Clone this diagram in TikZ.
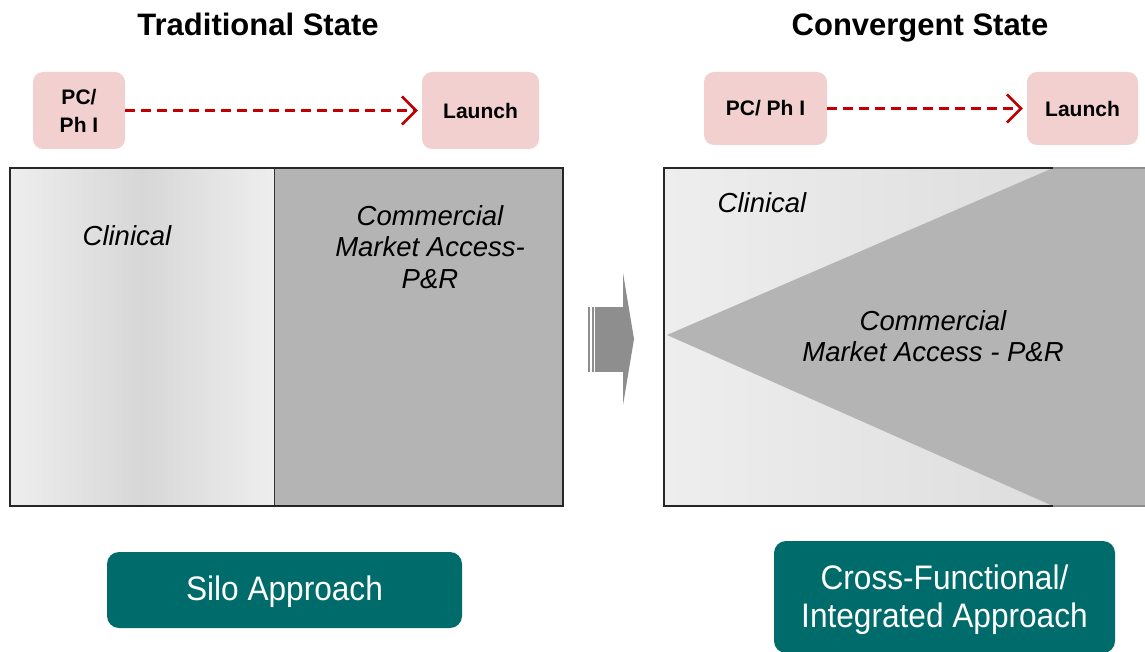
\documentclass[tikz,border=0pt]{standalone}
\usepackage{fontspec}
\setmainfont{Liberation Sans}
\newfontfamily\narrowfont[FakeStretch=0.93]{Liberation Sans}
\usetikzlibrary{arrows.meta,calc}
\definecolor{pinkbox}{RGB}{242,208,208}
\definecolor{tealbox}{RGB}{0,107,107}
\definecolor{darkg}{RGB}{180,180,180}
\definecolor{arrowred}{RGB}{192,0,0}
\definecolor{arrg}{RGB}{142,142,142}
\definecolor{lightg}{RGB}{238,238,238}
\definecolor{midg}{RGB}{215,215,215}
\begin{document}
\begin{tikzpicture}[x=1pt,y=-1pt,
  titletext/.style={font=\fontsize{31}{36}\selectfont\bfseries, anchor=base},
  phase/.style={fill=pinkbox, rounded corners=10pt, inner sep=0pt,
    font=\fontsize{21}{28}\selectfont\bfseries, align=center},
  redline/.style={draw=arrowred, line width=2.6pt, dash pattern=on 10pt off 6pt},
  redtip/.style={draw=arrowred, line width=2.6pt, solid,
    -{Straight Barb[length=14pt,width=28pt]}},
  itext/.style={font=\fontsize{27.5}{31.5}\selectfont\itshape, align=center, inner sep=0pt},
  approach/.style={fill=tealbox, rounded corners=12pt, inner sep=0pt},
  approachtext/.style={text=white, inner sep=0pt, font=\fontsize{34}{38}\narrowfont, align=center},
  panelborder/.style={draw=black!85, line width=1.6pt}
]
\useasboundingbox (0,0) rectangle (1145,652);
\clip (0,0) rectangle (1145,652);

% titles
\node[titletext] (t1) at (258,36) {Traditional State};
\node[titletext] (t2) at (920,36) {Convergent State};

% phase boxes
\node[phase, minimum width=92pt, minimum height=77pt] (pc1) at (79,110.5) {PC/\\Ph I};
\node[phase, minimum width=117pt, minimum height=77pt] (la1) at (480.5,110.5) {Launch};
\node[phase, minimum width=123pt, minimum height=73pt] (pc2) at (765.5,108.5) {PC/ Ph I};
\node[phase, minimum width=111pt, minimum height=73pt] (la2) at (1082.5,108.5) {Launch};
\draw[redline, shorten >=6pt] (pc1.east) -- (la1.west);
\draw[redtip] ($(la1.west)+(-8,0)$) -- ($(la1.west)+(-4,0)$);
\draw[redline, shorten >=6pt] (pc2.east) -- (la2.west);
\draw[redtip] ($(la2.west)+(-8,0)$) -- ($(la2.west)+(-4,0)$);

% left panel
\shade[left color=lightg, right color=midg] (10,168) rectangle (142,506);
\shade[left color=midg, right color=lightg] (142,168) rectangle (274,506);
\fill[darkg] (274,168) rectangle (563,506);
\draw[black!80, line width=1pt] (274,168) -- (274,506);
\draw[panelborder] (10,168) rectangle (563,506);
\node[itext] (clin1) at (127,236) {Clinical};
\node[itext] (comm1) at (430,247) {Commercial\\Market Access-\\P\&R};

% transition arrow
\fill[arrg] (588,307) rectangle (590,372);
\fill[arrg] (591.5,307) rectangle (593.5,372);
\fill[arrg] (595,307) rectangle (623.5,372);
\fill[arrg] (623,273) -- (634,339) -- (623,405) -- cycle;

% right panel
\shade[left color=lightg, right color=midg!90!lightg] (664,168) rectangle (1145,506);
\fill[darkg] (667,335) -- (1053,168) -- (1145,168) -- (1145,506) -- (1053,506) -- cycle;
\draw[panelborder] (1053,168) -- (664,168) -- (664,506) -- (1053,506);
\draw[black!45, line width=1.6pt] (1053,168) -- (1145,168);
\draw[black!45, line width=1.6pt] (1053,506) -- (1145,506);
\node[itext] (clin2) at (762,203) {Clinical};
\node[itext] (comm2) at (933,336) {Commercial\\Market Access - P\&R};

% approach boxes
\node[approach, minimum width=355pt, minimum height=76pt] (silo) at (284.5,590) {};
\node[approachtext] (silotext) at (284.5,592) {Silo Approach};
\node[approach, minimum width=341pt, minimum height=112pt] (cross) at (944.5,597) {};
\node[approachtext] (crosstext) at (944.5,600) {Cross-Functional/\\Integrated Approach};
\end{tikzpicture}
\end{document}
